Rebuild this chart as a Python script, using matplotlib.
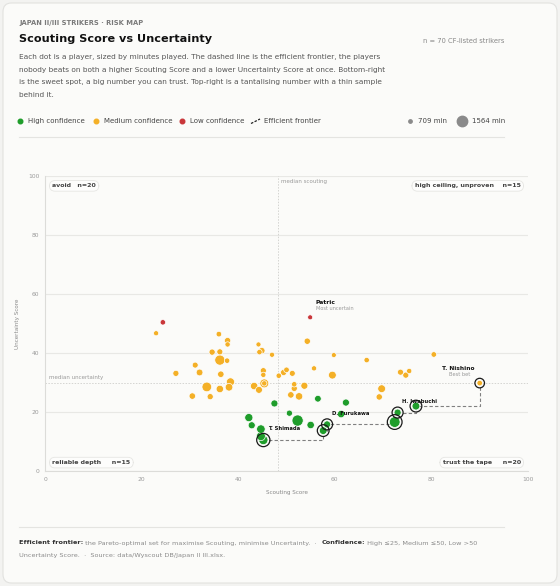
import matplotlib
matplotlib.use("Agg")
import matplotlib.pyplot as plt
from matplotlib.lines import Line2D
from matplotlib.patches import FancyBboxPatch
import numpy as np

plt.rcParams['font.family'] = ['DejaVu Sans']

# ---------------- data ----------------
scouting = [24.4, 23.0, 36.0, 37.8, 37.8, 34.6, 36.2, 36.2, 37.7, 44.2, 44.4, 44.9,
            31.1, 27.1, 32.0, 36.4, 45.2, 45.2, 38.4, 47.0, 45.4, 45.4,
            54.9, 54.3, 59.8, 66.6, 80.5, 48.4, 49.4, 50.0, 51.2, 55.7, 59.5, 73.6, 74.7, 75.4,
            33.5, 36.2, 38.1, 43.3, 44.3, 30.5, 34.2, 47.5, 42.2, 42.8, 44.7, 44.7, 45.2,
            51.6, 51.6, 53.7, 50.9, 52.6, 69.7, 69.2, 56.5, 62.3, 50.6, 61.3, 52.3, 55.0,
            58.4, 57.6, 73.0, 72.4, 76.8, 90.0]
uncertainty = [50.4, 46.7, 46.4, 44.2, 42.9, 40.3, 40.4, 37.6, 37.4, 42.9, 40.3, 40.8,
               35.9, 33.1, 33.4, 32.8, 34.0, 32.6, 30.2, 39.4, 29.7, 29.7,
               52.1, 44.0, 39.3, 37.6, 39.5, 32.3, 33.4, 34.3, 33.1, 34.8, 32.5, 33.5, 32.5, 33.9,
               28.5, 27.8, 28.4, 28.8, 27.5, 25.4, 25.2, 22.9, 18.1, 15.5, 14.2, 11.8, 10.5,
               29.4, 28.0, 28.9, 25.8, 25.3, 27.9, 25.1, 24.5, 23.2, 19.6, 19.3, 17.1, 15.6,
               15.8, 13.7, 19.8, 16.6, 22.0, 29.8]
minutes = [780, 740, 800, 900, 760, 880, 860, 1420, 780, 730, 780, 900,
           850, 870, 960, 920, 870, 760, 1150, 740, 1250, 760,
           720, 900, 720, 780, 800, 780, 880, 800, 850, 750, 1100, 860, 870, 760,
           1350, 1050, 1080, 1050, 980, 920, 880, 1000, 1150, 1000, 1200, 1250, 1300,
           780, 880, 1000, 920, 1050, 1100, 900, 950, 1000, 880, 1050, 1564, 1050,
           1000, 1100, 1000, 1500, 1100, 800]
names = [""] * len(scouting)
names[22] = "Patric"
names[48] = "T. Shimada"
names[62] = "D. Furukawa"
names[64] = "H. Iwabuchi"
names[67] = "T. Nishino"
subtitles = {"Patric": "Most uncertain", "T. Nishino": "Best bet"}

median_scouting = 48.3
median_uncertainty = 29.7
quadrant_labels = [("avoid", "n=20"), ("high ceiling, unproven", "n=15"),
                   ("reliable depth", "n=15"), ("trust the tape", "n=20")]
size_legend = [709, 1564]

GREEN, YELLOW, RED = "#1f9d2b", "#f4b027", "#c9373a"

x = np.array(scouting); y = np.array(uncertainty); m = np.array(minutes)
col = np.where(y <= 25, GREEN, np.where(y <= 50, YELLOW, RED))

W, H = 560, 586
fig = plt.figure(figsize=(W / 100, H / 100), dpi=100)
fig.patch.set_facecolor("#f3f3f1")

def fx(px): return px / W
def fy(py): return 1 - py / H

card = FancyBboxPatch((fx(3), fy(583)), fx(554), 580 / H, boxstyle="round,pad=0,rounding_size=0.015",
                      transform=fig.transFigure, facecolor="#fbfbf9", edgecolor="#e2e2df", lw=0.8,
                      zorder=-10)
fig.add_artist(card)

def diam_px(mins):
    return 4.9 + (np.asarray(mins) - 709) / (1564 - 709) * 6.3

def s_of(mins):
    return (diam_px(mins) * 0.72) ** 2

# ---------------- header ----------------
fig.text(fx(19.5), fy(22.5), "JAPAN II/III STRIKERS · RISK MAP", fontsize=4.85, fontweight="bold",
         color="#7a7a7a", va="center")
fig.text(fx(19), fy(39), "Scouting Score vs Uncertainty", fontsize=8.15, fontweight="bold",
         color="#111111", va="center")
fig.text(fx(504), fy(41), "n = 70 CF-listed strikers", fontsize=4.9, color="#888888",
         va="center", ha="right")
desc = ["Each dot is a player, sized by minutes played. The dashed line is the efficient frontier, the players",
        "nobody beats on both a higher Scouting Score and a lower Uncertainty Score at once. Bottom-right",
        "is the sweet spot, a big number you can trust. Top-right is a tantalising number with a thin sample",
        "behind it."]
for i, line in enumerate(desc):
    fig.text(fx(19), fy(57 + i * 12.7), line, fontsize=5.3, color="#555555", va="center")

# legend row
ly = 121
items = [(20, GREEN, "High confidence"), (96, YELLOW, "Medium confidence"), (181.5, RED, "Low confidence")]
for px_, c, lab in items:
    fig.add_artist(Line2D([fx(px_)], [fy(ly)], marker="o", ms=3.3, color=c, mec=c, transform=fig.transFigure))
    fig.text(fx(px_ + 8), fy(ly), lab, fontsize=5.0, color="#444444", va="center")
fig.add_artist(Line2D([fx(251), fx(260)], [fy(123.5), fy(119)], color="#222222", lw=0.9,
                      ls=(0, (2, 1.2)), transform=fig.transFigure))
fig.text(fx(264), fy(ly), "Efficient frontier", fontsize=5.0, color="#444444", va="center")
fig.add_artist(Line2D([fx(410)], [fy(ly)], marker="o", ms=3.4 * 0.72,
                      color="#8a8a8a", mec="#8a8a8a", transform=fig.transFigure))
fig.text(fx(418), fy(ly), f"{size_legend[0]} min", fontsize=5.0, color="#444444", va="center")
fig.add_artist(Line2D([fx(462)], [fy(ly)], marker="o", ms=10.4 * 0.72,
                      color="#8a8a8a", mec="#8a8a8a", transform=fig.transFigure))
fig.text(fx(471.5), fy(ly), f"{size_legend[1]} min", fontsize=5.0, color="#444444", va="center")
fig.add_artist(Line2D([fx(19), fx(504)], [fy(137), fy(137)], color="#e4e4e1", lw=0.8, transform=fig.transFigure))

# ---------------- axes ----------------
ax = fig.add_axes([fx(45), fy(471), (528 - 45) / W, (471 - 176) / H])
ax.set_facecolor("#fbfbf9")
ax.set_xlim(0, 100); ax.set_ylim(0, 100)
ax.set_xticks([0, 20, 40, 60, 80, 100]); ax.set_yticks([0, 20, 40, 60, 80, 100])
ax.tick_params(length=0, labelsize=4.3, labelcolor="#9a9a9a", pad=4)
ax.grid(axis="y", color="#e8e8e5", lw=0.8)
ax.set_axisbelow(True)
for s in ["top", "right"]:
    ax.spines[s].set_visible(False)
for s in ["left", "bottom"]:
    ax.spines[s].set_color("#dcdcd9"); ax.spines[s].set_linewidth(0.8)
ax.set_xlabel("Scouting Score", fontsize=4.1, color="#8a8a8a", labelpad=6)
ax.set_ylabel("Uncertainty Score", fontsize=4.1, color="#8a8a8a", labelpad=6)

ax.axvline(median_scouting, color="#d4d4d1", lw=0.7, ls=(0, (1.5, 1.5)), zorder=1)
ax.axhline(median_uncertainty, color="#d4d4d1", lw=0.7, ls=(0, (1.5, 1.5)), zorder=1)
ax.text(median_scouting + 0.6, 99, "median scouting", fontsize=4.0, color="#999999", va="top", ha="left")
ax.text(0.8, median_uncertainty + 1.3, "median uncertainty", fontsize=4.0, color="#999999", va="bottom", ha="left")

# frontier
order = np.argsort(-x)
front = []
best = np.inf
for i in order:
    if y[i] < best:
        front.append(i); best = y[i]
front = np.array(front)[::-1]
ax.plot(x[front], y[front], drawstyle="steps-post", color="#808080", lw=0.8, ls=(0, (3, 2)), zorder=2)

order_s = np.argsort(-m)
ax.scatter(x[order_s], y[order_s], s=s_of(m[order_s]), c=col[order_s], edgecolors="white",
           linewidths=0.5, zorder=3)
ax.scatter(x[front], y[front], s=((diam_px(m[front]) + 4.0) * 0.72) ** 2, facecolors="none",
           edgecolors="#1a1a1a", linewidths=0.9, zorder=4)

for i, nm in enumerate(names):
    if not nm:
        continue
    if nm == "T. Nishino":
        ax.annotate(nm, (x[i], y[i]), xytext=(-4, 8.5), textcoords="offset points", fontsize=4.2,
                    fontweight="bold", color="#111111", ha="right", va="bottom")
        ax.annotate(subtitles[nm], (x[i], y[i]), xytext=(-7, 4.5), textcoords="offset points",
                    fontsize=3.7, color="#999999", ha="right", va="bottom")
    elif nm == "Patric":
        ax.annotate(nm, (x[i], y[i]), xytext=(4, 8.5), textcoords="offset points", fontsize=4.3,
                    fontweight="bold", color="#111111", ha="left", va="bottom")
        ax.annotate(subtitles[nm], (x[i], y[i]), xytext=(4, 4.2), textcoords="offset points",
                    fontsize=3.6, color="#999999", ha="left", va="bottom")
    else:
        ax.annotate(nm, (x[i], y[i]), xytext=(3.5, 6.2), textcoords="offset points", fontsize=3.8,
                    fontweight="bold", color="#111111", ha="left", va="bottom", zorder=5)

box = dict(boxstyle="round,pad=0.45,rounding_size=0.9", facecolor="#fdfdfc", edgecolor="#e6e6e3", lw=0.6)
qpos = [(1.5, 97.5, "left", "top"), (98.5, 97.5, "right", "top"),
        (1.5, 2.0, "left", "bottom"), (98.5, 2.0, "right", "bottom")]
gaps = ["   ", "    ", "     ", "     "]
for (lab, n), (qx, qy, ha, va), g in zip(quadrant_labels, qpos, gaps):
    ax.text(qx, qy, lab + g + n, fontsize=4.5, fontweight="bold", color="#444444", ha=ha, va=va,
            bbox=box, zorder=6)

# ---------------- footer ----------------
fig.add_artist(Line2D([fx(19), fx(504)], [fy(527), fy(527)], color="#e4e4e1", lw=0.8, transform=fig.transFigure))
fig.canvas.draw()
renderer = fig.canvas.get_renderer()

def runs(px, py, parts, size=4.65):
    xx = fx(px)
    for s, bold, c in parts:
        t = fig.text(xx, fy(py), s, fontsize=size, fontweight="bold" if bold else "normal", color=c, va="center")
        bb = t.get_window_extent(renderer)
        xx = bb.x1 / fig.bbox.width

runs(19, 543, [("Efficient frontier:", True, "#333333"),
               (" the Pareto-optimal set for maximise Scouting, minimise Uncertainty.  ·  ", False, "#8a8a8a"),
               ("Confidence:", True, "#333333"),
               (" High ≤25, Medium ≤50, Low >50", False, "#8a8a8a")])
runs(19, 555, [("Uncertainty Score.  ·  Source: data/Wyscout DB/Japan II III.xlsx.", False, "#8a8a8a")])

fig.savefig("out.png", dpi=100, facecolor=fig.get_facecolor())
